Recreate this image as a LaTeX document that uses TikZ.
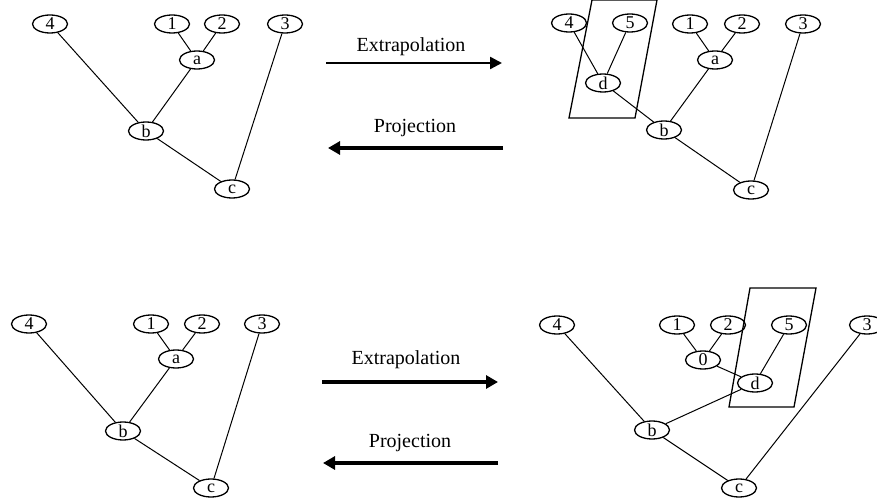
\documentclass[tikz,border=0pt]{standalone}
\usepackage{fontspec}
\setmainfont{Liberation Serif}
\usetikzlibrary{arrows.meta,shapes}
\tikzset{
  vert/.style  = {draw, ellipse, line width=1.3pt, minimum width=35pt, minimum height=18pt, inner sep=0pt, font=\fontsize{18}{18}\selectfont},
  edge/.style  = {line width=1pt},
  frame/.style = {draw, line width=1.3pt},
  thinarrow/.style = {line width=2.4pt, -{Triangle[length=12pt,width=12pt]}},
  thickarrow/.style = {line width=4.5pt, -{Triangle[length=12pt,width=13pt]}},
  lbl/.style   = {font=\fontsize{20}{20}\selectfont}
}

\begin{document}
\begin{tikzpicture}[x=1pt,y=-1pt]
\useasboundingbox (0,0) rectangle (877,502);

\node[vert] (tl4) at (50,24) {4};
\node[vert] (tl1) at (172,24) {1};
\node[vert] (tl2) at (222,24) {2};
\node[vert] (tl3) at (285,24) {3};
\node[vert] (tla) at (197,60) {a};
\node[vert] (tlb) at (146,131) {b};
\node[vert] (tlc) at (232,189) {c};
\draw[edge] (tl1) -- (tla) (tl2) -- (tla) (tla) -- (tlb) (tl4) -- (tlb) (tlb) -- (tlc) (tl3) -- (tlc);

\node[vert] (tr4) at (569,23) {4};
\node[vert] (tr5) at (630,23) {5};
\node[vert] (tr1) at (690,24) {1};
\node[vert] (tr2) at (742,24) {2};
\node[vert] (tr3) at (803,24) {3};
\node[vert] (tra) at (715,60) {a};
\node[vert] (trd) at (603,83) {d};
\node[vert] (trb) at (664,130) {b};
\node[vert] (trc) at (751,190) {c};
\draw[edge] (tr4) -- (trd) (tr5) -- (trd) (trd) -- (trb) (tr1) -- (tra) (tr2) -- (tra) (tra) -- (trb) (trb) -- (trc) (tr3) -- (trc);
\draw[frame] (592,0) -- (657,0) -- (635,118) -- (569,118) -- cycle;

\node[vert] (bl4) at (29,324) {4};
\node[vert] (bl1) at (151,324) {1};
\node[vert] (bl2) at (202,324) {2};
\node[vert] (bl3) at (262,324) {3};
\node[vert] (bla) at (176,359) {a};
\node[vert] (blb) at (123,431) {b};
\node[vert] (blc) at (211,488) {c};
\draw[edge] (bl1) -- (bla) (bl2) -- (bla) (bla) -- (blb) (bl4) -- (blb) (blb) -- (blc) (bl3) -- (blc);

\node[vert] (br4) at (557,325) {4};
\node[vert] (br1) at (677,325) {1};
\node[vert] (br2) at (728,325) {2};
\node[vert] (br5) at (789,325) {5};
\node[vert] (br3) at (867,325) {3};
\node[vert] (br0) at (703,360) {0};
\node[vert] (brd) at (755,383) {d};
\node[vert] (brb) at (652,430) {b};
\node[vert] (brc) at (739,488) {c};
\draw[edge] (br1) -- (br0) (br2) -- (br0) (br0) -- (brd) (br5) -- (brd) (brd) -- (brb) (br4) -- (brb) (brb) -- (brc) (br3) -- (brc);
\draw[frame] (750,288) -- (816,288) -- (794,407) -- (729,407) -- cycle;

\node[lbl] (ext1) at (411,47) {Extrapolation};
\coordinate (ext1a) at (326,63);
\coordinate (ext1b) at (502,63);
\draw[thinarrow] (ext1a) -- (ext1b);
\node[lbl] (pro1) at (415,128) {Projection};
\coordinate (pro1a) at (503,148);
\coordinate (pro1b) at (328,148);
\draw[thickarrow] (pro1a) -- (pro1b);

\node[lbl] (ext2) at (406,360) {Extrapolation};
\coordinate (ext2a) at (322,382);
\coordinate (ext2b) at (498,382);
\draw[thickarrow] (ext2a) -- (ext2b);
\node[lbl] (pro2) at (410,443) {Projection};
\coordinate (pro2a) at (498,463);
\coordinate (pro2b) at (323,463);
\draw[thickarrow] (pro2a) -- (pro2b);
\end{tikzpicture}
\end{document}
